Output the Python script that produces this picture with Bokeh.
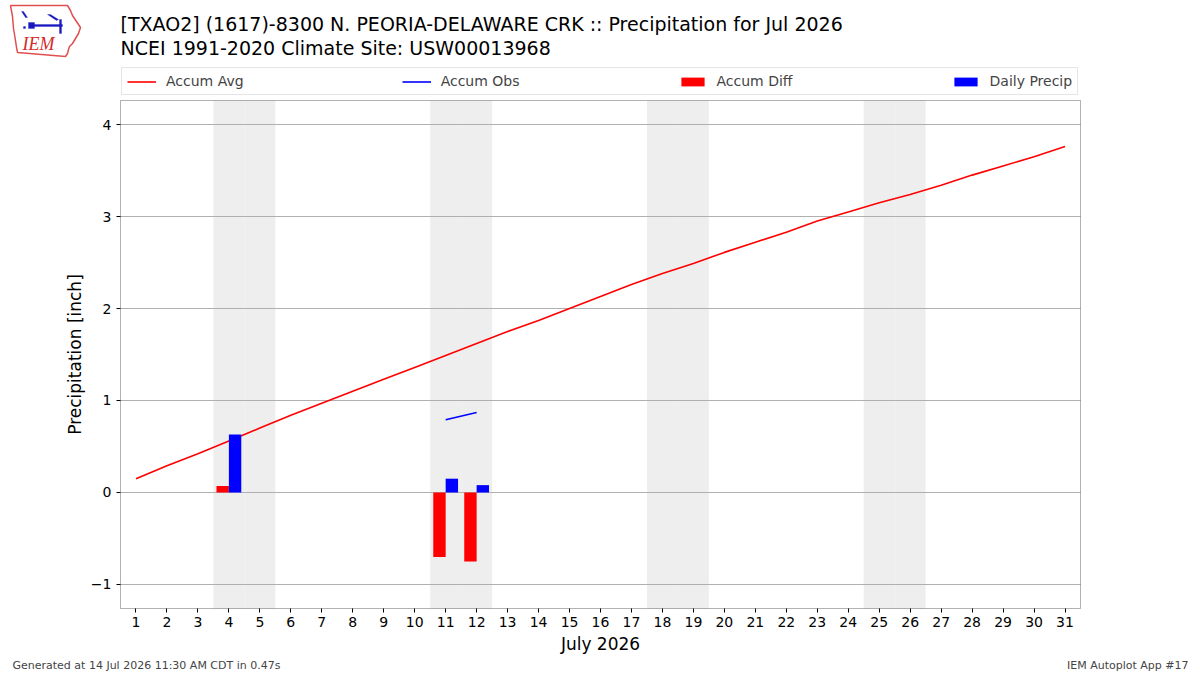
from bokeh.plotting import figure
from bokeh.models import (ColumnDataSource, Range1d, FixedTicker, Legend, LegendItem,
                          Label, PolyAnnotation, BoxAnnotation, LinearAxis)
from bokeh.transform import dodge
from bokeh.embed import file_html
from bokeh.resources import INLINE

NAN = float("nan")

# ---------------- data ----------------
days = list(range(1, 32))
accum_avg = [0.15, 0.29, 0.42, 0.56, 0.70, 0.84, 0.97, 1.10, 1.23, 1.36,
             1.49, 1.62, 1.75, 1.87, 2.00, 2.13, 2.26, 2.38, 2.49, 2.61,
             2.72, 2.83, 2.95, 3.05, 3.15, 3.24, 3.34, 3.45, 3.55, 3.65, 3.76]
accum_obs = [NAN, NAN, NAN, 0.63, NAN, NAN, NAN, NAN, NAN, NAN,
             0.79, 0.87, NAN, NAN, NAN, NAN, NAN, NAN, NAN, NAN,
             NAN, NAN, NAN, NAN, NAN, NAN, NAN, NAN, NAN, NAN, NAN]
precip_days = [4, 11, 12]
daily_precip = [0.63, 0.15, 0.08]
accum_diff = [0.07, -0.70, -0.75]
weekend_days = [4, 5, 11, 12, 18, 19, 25, 26]
y_ticks = [-1, 0, 1, 2, 3, 4]
legend_labels = ["Accum Avg", "Accum Obs", "Accum Diff", "Daily Precip"]

title1 = "[TXAO2] (1617)-8300 N. PEORIA-DELAWARE CRK :: Precipitation for Jul 2026"
title2 = "NCEI 1991-2020 Climate Site: USW00013968"
footer_left = "Generated at 14 Jul 2026 11:30 AM CDT in 0.47s"
footer_right = "IEM Autoplot App #17"

FONT = "DejaVu Sans"

# ---------------- geometry ----------------
W, H = 1200, 675
FL, FR, FT, FB = 120, 1080, 100, 608      # plot-area edges (canvas pixels)
X0, X1 = 0.5, 31.5                        # data limits of the plot area
Y0, Y1 = -1.261, 4.261
kx = (FR - FL) / (X1 - X0)
ky = (FB - FT) / (Y1 - Y0)
x_range = Range1d(X0 - FL / kx, X1 + (W - FR) / kx)
y_range = Range1d(Y0 - (H - FB) / ky, Y1 + FT / ky)


def sx(cx):
    return cx


def sy(cy):
    return H - cy


p = figure(width=W, height=H, x_range=x_range, y_range=y_range,
           output_backend="svg", toolbar_location=None, title=None,
           x_axis_location=None, y_axis_location=None, min_border=0)
p.grid.visible = False
p.outline_line_color = None
p.background_fill_color = "white"
p.border_fill_color = "white"

# weekend shading
wk = ColumnDataSource(dict(day=weekend_days))
p.vbar(x="day", width=1.0, bottom=Y0, top=Y1, source=wk, fill_color="#eeeeee",
       line_color=None, level="image")

# horizontal grid lines within plot area
p.segment(x0=X0, x1=X1, y0=y_ticks, y1=y_ticks, line_color="#b0b0b0", line_width=1,
          level="underlay")

src_line = ColumnDataSource(dict(day=days, avg=accum_avg, obs=accum_obs))
r_avg = p.line("day", "avg", source=src_line, line_color="red", line_width=1.6)
r_obs = p.line("day", "obs", source=src_line, line_color="blue", line_width=1.6)

src_bar = ColumnDataSource(dict(day=precip_days, precip=daily_precip, diff=accum_diff))
r_diff = p.vbar(x=dodge("day", -0.2), width=0.4, top="diff", bottom=0, source=src_bar,
                fill_color="red", line_color=None)
r_prec = p.vbar(x=dodge("day", 0.2), width=0.4, top="precip", bottom=0, source=src_bar,
                fill_color="blue", line_color=None)

# plot-area frame
p.add_layout(BoxAnnotation(left=X0, right=X1, bottom=Y0, top=Y1, fill_alpha=0,
                           line_color="black", line_width=1, level="overlay"))

# axes at fixed locations
xaxis = LinearAxis(fixed_location=Y0, bounds=(X0, X1), ticker=FixedTicker(ticks=days),
                   axis_label="July 2026")
yaxis = LinearAxis(fixed_location=X0, bounds=(Y0, Y1), ticker=FixedTicker(ticks=y_ticks),
                   axis_label="Precipitation [inch]",
                   major_label_overrides={-1: "\u22121"})
for ax in (xaxis, yaxis):
    ax.major_label_text_font = FONT
    ax.major_label_text_font_size = "14px"
    ax.major_label_text_color = "black"
    ax.axis_label_text_font = FONT
    ax.axis_label_text_font_size = "17px"
    ax.axis_label_text_font_style = "normal"
    ax.axis_label_text_color = "black"
    ax.major_tick_out = 4
    ax.major_tick_in = 0
    ax.minor_tick_line_color = None
    ax.axis_line_color = None
    ax.major_tick_line_color = "black"
xaxis.major_label_standoff = 4
yaxis.major_label_standoff = 5
xaxis.axis_label_standoff = 4
yaxis.axis_label_standoff = 3
p.add_layout(xaxis, "below")
p.add_layout(yaxis, "left")

# legend
legend = Legend(items=[LegendItem(label=l, renderers=[r])
                       for l, r in zip(legend_labels, [r_avg, r_obs, r_diff, r_prec])],
                location=(121, sy(95)), orientation="horizontal", spacing=158, padding=5,
                margin=0, glyph_width=29, glyph_height=11, label_standoff=10,
                label_text_font=FONT, label_text_font_size="14px",
                border_line_color="#cccccc", border_line_width=1,
                background_fill_color="white", background_fill_alpha=1.0)
p.add_layout(legend)

# titles
for txt, top in ((title1, 12), (title2, 36)):
    p.add_layout(Label(x=sx(120), y=sy(top), x_units="screen", y_units="screen", text=txt,
                       text_font=FONT, text_font_size="19px", text_baseline="top",
                       text_color="black"))

# footer
p.add_layout(Label(x=sx(12), y=sy(665), x_units="screen", y_units="screen", text=footer_left,
                   text_font=FONT, text_font_size="11px", text_baseline="middle"))
p.add_layout(Label(x=sx(1188), y=sy(665), x_units="screen", y_units="screen",
                   text=footer_right, text_font=FONT, text_font_size="11px",
                   text_baseline="middle", text_align="right"))

# logo (decoration)
iowa_x = [10, 67, 70, 72, 76, 80, 78, 75, 72, 69, 68, 67, 65, 17, 16, 15, 13, 12, 10]
iowa_y = [5, 5, 10, 15, 21, 27, 33, 38, 43, 46, 49, 53, 56, 52, 47, 40, 28, 16, 5]
p.add_layout(PolyAnnotation(xs=[sx(v) for v in iowa_x], ys=[sy(v) for v in iowa_y],
                            xs_units="screen", ys_units="screen", fill_color="white",
                            fill_alpha=1.0, line_color="#e05050", line_alpha=1.0,
                            line_width=1.5, level="overlay"))
shapes = [
    ([30, 62, 62, 30], [24, 24, 26, 26]),
    ([28, 34, 34, 28], [22, 22, 28, 28]),
    ([59, 61, 61, 59], [19, 19, 33, 33]),
    ([47, 50, 58, 56], [14, 14, 19, 20]),
    ([21, 23, 27, 25], [11, 11, 17, 17]),
    ([23, 25, 25, 23], [26, 26, 28, 28]),
]
for xs, ys in shapes:
    p.add_layout(PolyAnnotation(xs=[sx(v) for v in xs], ys=[sy(v) for v in ys],
                                xs_units="screen", ys_units="screen", fill_color="#1818c0",
                                fill_alpha=1.0, line_color="#1818c0", line_width=1,
                                level="overlay"))
p.add_layout(Label(x=sx(22), y=sy(43), x_units="screen", y_units="screen", text="IEM",
                   text_font="Liberation Serif", text_font_style="italic",
                   text_font_size="18px", text_color="#d42a2a", text_baseline="middle",
                   level="overlay"))

open("out.html", "w").write(file_html(p, INLINE))
